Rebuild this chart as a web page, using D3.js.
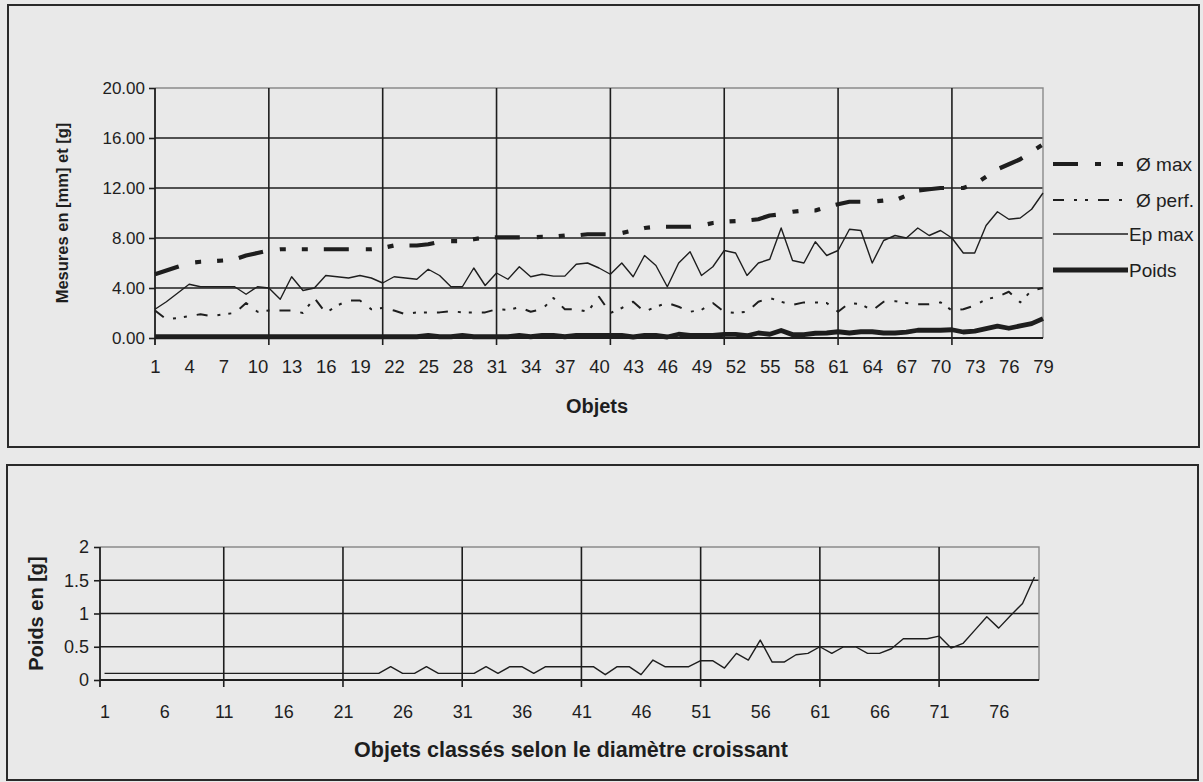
<!DOCTYPE html>
<html>
<head>
<meta charset="utf-8">
<script src="https://cdn.jsdelivr.net/npm/d3@7"></script>
<style>
  html, body { margin: 0; padding: 0; background: #e9e9e9; }
  svg { display: block; }
  text { font-family: "Liberation Sans", Arial, sans-serif; fill: #1e1e1e; }
</style>
</head>
<body>
<svg id="chart" width="1203" height="782"></svg>
<script>
// Objects 1..79, sorted by increasing diameter
const objets = d3.range(1, 80);

// Maximum diameter [mm]
const diamMax = [
  5.1, 5.4, 5.7, 6.0, 6.1, 6.15, 6.2, 6.3, 6.6, 6.8,
  7.0, 7.1, 7.1, 7.1, 7.1, 7.1, 7.1, 7.1, 7.1, 7.1,
  7.2, 7.4, 7.4, 7.4, 7.5, 7.7, 7.75, 7.75, 7.9, 8.05,
  8.05, 8.05, 8.05, 8.05, 8.1, 8.1, 8.2, 8.2, 8.3, 8.3,
  8.3, 8.4, 8.6, 8.8, 8.9, 8.9, 8.9, 8.9, 9.0, 9.2,
  9.3, 9.35, 9.4, 9.5, 9.8, 9.9, 10.1, 10.2, 10.2, 10.5,
  10.7, 10.9, 10.9, 10.9, 11.0, 11.0, 11.4, 11.8, 11.9, 12.0,
  12.0, 12.0, 12.3, 12.9, 13.5, 13.9, 14.3, 14.9, 15.5
];

// Perforation diameter [mm]
const diamPerf = [
  2.2, 1.5, 1.6, 1.75, 1.9, 1.75, 1.9, 2.0, 2.8, 2.1,
  2.2, 2.2, 2.2, 2.0, 3.2, 2.0, 2.6, 3.0, 3.0, 2.3,
  2.4, 2.2, 1.9, 2.05, 2.05, 2.05, 2.15, 2.05, 2.05, 2.05,
  2.3, 2.25, 2.45, 2.1, 2.3, 3.2, 2.3, 2.3, 2.1, 3.3,
  2.0, 2.4, 2.9, 2.1, 2.5, 2.8, 2.5, 2.1, 2.25, 2.8,
  2.1, 2.0, 2.1, 2.9, 3.2, 2.9, 2.65, 2.85, 2.85, 2.8,
  2.1, 2.8, 2.7, 2.2, 2.9, 2.95, 2.8, 2.7, 2.7, 2.85,
  2.2, 2.3, 2.6, 3.1, 3.3, 3.7, 2.85, 3.8, 4.0
];

// Maximum thickness [mm]
const epMax = [
  2.3, 2.9, 3.6, 4.3, 4.1, 4.1, 4.1, 4.1, 3.5, 4.1,
  4.0, 3.1, 4.9, 3.8, 4.0, 5.0, 4.9, 4.8, 5.0, 4.8,
  4.4, 4.9, 4.8, 4.7, 5.5, 5.0, 4.1, 4.1, 5.6, 4.2,
  5.2, 4.7, 5.7, 4.9, 5.1, 4.95, 4.95, 5.9, 6.0, 5.6,
  5.1, 6.0, 4.9, 6.6, 5.8, 4.1, 6.0, 6.9, 5.0, 5.7,
  7.0, 6.8, 5.0, 6.0, 6.3, 8.8, 6.2, 6.0, 7.7, 6.6,
  7.0, 8.7, 8.6, 6.0, 7.8, 8.2, 8.0, 8.8, 8.2, 8.6,
  8.0, 6.8, 6.8, 9.0, 10.1, 9.5, 9.6, 10.3, 11.6
];

// Weight [g]
const poids = [
  0.1, 0.1, 0.1, 0.1, 0.1, 0.1, 0.1, 0.1, 0.1, 0.1,
  0.1, 0.1, 0.1, 0.1, 0.1, 0.1, 0.1, 0.1, 0.1, 0.1,
  0.1, 0.1, 0.1, 0.1, 0.2, 0.1, 0.1, 0.2, 0.1, 0.1,
  0.1, 0.1, 0.2, 0.1, 0.2, 0.2, 0.1, 0.2, 0.2, 0.2,
  0.2, 0.2, 0.08, 0.2, 0.2, 0.08, 0.3, 0.2, 0.2, 0.2,
  0.29, 0.29, 0.18, 0.4, 0.3, 0.6, 0.27, 0.27, 0.38, 0.4,
  0.5, 0.4, 0.5, 0.5, 0.4, 0.4, 0.47, 0.62, 0.62, 0.62,
  0.66, 0.48, 0.55, 0.75, 0.95, 0.78, 0.97, 1.15, 1.55
];

// Axis ticks and labels
const yTicksTop = [0, 4, 8, 12, 16, 20];
const yTicksBottom = [0, 0.5, 1, 1.5, 2];
const xLabelsTop = objets.filter(d => (d - 1) % 3 === 0);
const xLabelsBottom = objets.filter(d => (d - 1) % 5 === 0);
const gridObjets = [11, 21, 31, 41, 51, 61, 71];

// Series and legend labels
const seriesNames = ["Ø max", "Ø perf.", "Ep max", "Poids"];
const seriesData = [diamMax, diamPerf, epMax, poids];

const styles = [
  { width: 4.2, dash: "25,17,6,16,6,16" },
  { width: 2, dash: "11,10,3,8,3,10" },
  { width: 1.4, dash: null },
  { width: 4.8, dash: null }
];

const ink = "#1e1e1e";
const svg = d3.select("#chart");

// Frames around both charts
svg.append("rect").attr("x", 8).attr("y", 5).attr("width", 1191).attr("height", 442)
  .attr("fill", "none").attr("stroke", "#2a2a2a").attr("stroke-width", 2);
svg.append("rect").attr("x", 7).attr("y", 465).attr("width", 1191).attr("height", 315)
  .attr("fill", "none").attr("stroke", "#2a2a2a").attr("stroke-width", 2);

function drawFrame(g, x, y, yTicks, left, right, top, bottom) {
  // horizontal gridlines
  g.selectAll(".hgrid").data(yTicks.slice(1, -1)).join("line")
    .attr("x1", left).attr("x2", right)
    .attr("y1", d => y(d)).attr("y2", d => y(d))
    .attr("stroke", ink).attr("stroke-width", 1.6);
  // top and right border of plot area
  g.append("path")
    .attr("d", `M${left},${top}H${right}V${bottom}`)
    .attr("fill", "none").attr("stroke", "#8a8a8a").attr("stroke-width", 1.4);
  // vertical gridlines with tick marks below the axis
  g.selectAll(".vgrid").data(gridObjets).join("line")
    .attr("x1", d => x(d)).attr("x2", d => x(d))
    .attr("y1", top).attr("y2", bottom + 7)
    .attr("stroke", ink).attr("stroke-width", 1.6);
  // axis lines
  g.append("line").attr("x1", left).attr("x2", left).attr("y1", top).attr("y2", bottom + 7)
    .attr("stroke", ink).attr("stroke-width", 1.8);
  g.append("line").attr("x1", left).attr("x2", right).attr("y1", bottom).attr("y2", bottom)
    .attr("stroke", ink).attr("stroke-width", 1.8);
}

// ---------- Top chart: all measurements ----------
{
  const left = 155, right = 1043, top = 88, bottom = 338;
  const x = d3.scalePoint().domain(objets).range([left, right]);
  const y = d3.scaleLinear().domain([0, 20]).range([bottom, top]);
  const g = svg.append("g");

  drawFrame(g, x, y, yTicksTop, left, right, top, bottom);

  const yAxis = g.append("g").attr("transform", `translate(${left},0)`)
    .call(d3.axisLeft(y).tickValues(yTicksTop).tickFormat(d3.format(".2f")).tickSize(6).tickPadding(4));
  yAxis.select(".domain").remove();
  yAxis.selectAll("line").attr("stroke", ink).attr("stroke-width", 1.6);
  yAxis.selectAll("text").style("font-size", "17px").attr("fill", ink);

  const xAxis = g.append("g").attr("transform", `translate(0,${bottom})`)
    .call(d3.axisBottom(x).tickValues(xLabelsTop).tickSize(0).tickPadding(22));
  xAxis.select(".domain").remove();
  xAxis.selectAll("text").style("font-size", "18.5px").attr("fill", ink);

  const line = vals => d3.line().x((d, i) => x(objets[i])).y(d => y(d))(vals);
  seriesData.forEach((vals, k) => {
    g.append("path").attr("d", line(vals))
      .attr("fill", "none").attr("stroke", ink)
      .attr("stroke-width", styles[k].width)
      .attr("stroke-dasharray", styles[k].dash)
      .attr("stroke-linejoin", "round");
  });

  g.append("text").attr("transform", `translate(68,${(top + bottom) / 2}) rotate(-90)`)
    .attr("text-anchor", "middle").style("font-size", "16.5px").style("font-weight", "bold")
    .text("Mesures en [mm] et [g]");
  g.append("text").attr("x", 597).attr("y", 413)
    .attr("text-anchor", "middle").style("font-size", "20px").style("font-weight", "bold")
    .text("Objets");

  // legend
  const legendY = [164, 200, 234, 270];
  const lg = g.append("g");
  seriesNames.forEach((name, k) => {
    lg.append("line").attr("x1", 1053).attr("x2", 1128)
      .attr("y1", legendY[k]).attr("y2", legendY[k])
      .attr("stroke", ink).attr("stroke-width", styles[k].width)
      .attr("stroke-dasharray", styles[k].dash);
    lg.append("text").attr("x", k < 2 ? 1136 : 1129).attr("y", legendY[k] + 7)
      .style("font-size", "19px").text(name);
  });
}

// ---------- Bottom chart: weight ----------
{
  const left = 100, right = 1039, top = 547, bottom = 680;
  const x = d3.scalePoint().domain(objets).range([left, right]).padding(0.38);
  const y = d3.scaleLinear().domain([0, 2]).range([bottom, top]);
  const g = svg.append("g");

  drawFrame(g, x, y, yTicksBottom, left, right, top, bottom);

  const yAxis = g.append("g").attr("transform", `translate(${left},0)`)
    .call(d3.axisLeft(y).tickValues(yTicksBottom).tickFormat(d3.format("~g")).tickSize(6).tickPadding(5));
  yAxis.select(".domain").remove();
  yAxis.selectAll("line").attr("stroke", ink).attr("stroke-width", 1.6);
  yAxis.selectAll("text").style("font-size", "18px").attr("fill", ink);

  const xAxis = g.append("g").attr("transform", `translate(0,${bottom})`)
    .call(d3.axisBottom(x).tickValues(xLabelsBottom).tickSize(0).tickPadding(25));
  xAxis.select(".domain").remove();
  xAxis.selectAll("text").style("font-size", "18px").attr("fill", ink);

  g.append("path")
    .attr("d", d3.line().x((d, i) => x(objets[i])).y(d => y(d))(poids))
    .attr("fill", "none").attr("stroke", ink).attr("stroke-width", 1.4)
    .attr("stroke-linejoin", "round");

  g.append("text").attr("transform", `translate(43,${(top + bottom) / 2}) rotate(-90)`)
    .attr("text-anchor", "middle").style("font-size", "20px").style("font-weight", "bold")
    .text("Poids en [g]");
  g.append("text").attr("x", 571).attr("y", 757)
    .attr("text-anchor", "middle").style("font-size", "21.5px").style("font-weight", "bold")
    .text("Objets classés selon le diamètre croissant");
}
</script>
</body>
</html>
